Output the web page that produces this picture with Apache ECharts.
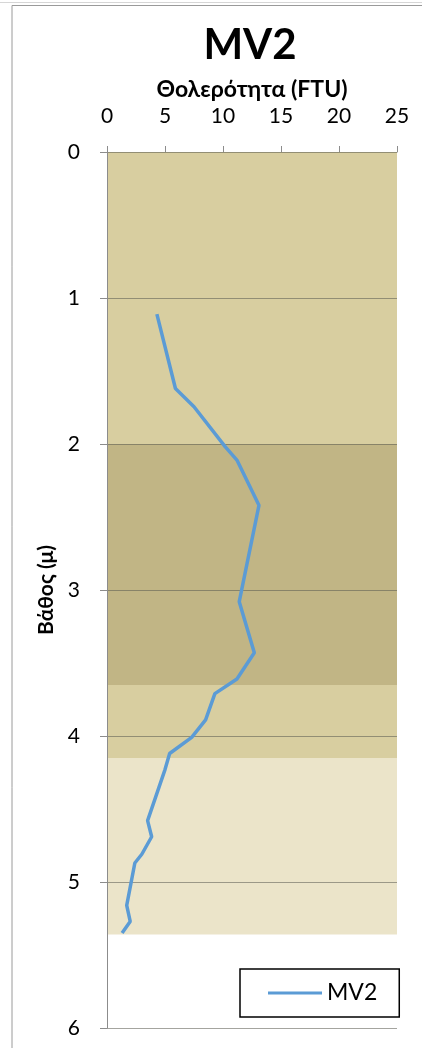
<!DOCTYPE html>
<html>
<head>
<meta charset="utf-8">
<script src="https://cdn.jsdelivr.net/npm/echarts@6/dist/echarts.min.js"></script>
<style>
html,body{margin:0;padding:0;background:#fff;}
#chart{width:422px;height:1048px;}
</style>
</head>
<body>
<div id="chart"></div>
<script>
// ---- data ----
const seriesName = 'MV2';
const turbidity = [4.3, 5.9, 7.5, 10.2, 11.2, 13.1, 11.4, 12.7, 11.2, 9.3, 8.5, 7.3, 5.4, 5.0, 3.5, 3.85, 3.0, 2.4, 1.7, 2.0, 1.3];
const depth =     [1.11, 1.62, 1.745, 2.02, 2.11, 2.42, 3.08, 3.43, 3.61, 3.71, 3.89, 4.01, 4.12, 4.23, 4.58, 4.69, 4.81, 4.87, 5.16, 5.27, 5.35];
const bandFrom =  [0, 2, 3.65, 4.15];
const bandTo =    [2, 3.65, 4.15, 5.36];
const bandColors = ['#d8cea0', '#c1b585', '#d8cea0', '#ebe4c9'];
const xTicks = [0, 5, 10, 15, 20, 25];
const yTicks = [0, 1, 2, 3, 4, 5, 6];

const FONT = 'Lato, "Open Sans", sans-serif';
const points = turbidity.map((v, i) => [v, depth[i]]);
const bands = bandFrom.map((f, i) => [
  { xAxis: xTicks[0], yAxis: f, itemStyle: { color: bandColors[i] } },
  { xAxis: xTicks[xTicks.length - 1], yAxis: bandTo[i] }
]);

const chart = echarts.init(document.getElementById('chart'), null, { renderer: 'canvas' });
chart.setOption({
  animation: false,
  backgroundColor: '#fff',
  title: {
    text: seriesName,
    left: 245, top: 19, textAlign: 'center',
    textStyle: { fontFamily: FONT, fontSize: 42, fontWeight: 'bold', color: '#000' }
  },
  graphic: [
    { type: 'line', shape: { x1: 0, y1: 2.5, x2: 422, y2: 2.5 }, style: { stroke: '#d6d6d6', lineWidth: 1 } },
    { type: 'line', shape: { x1: 12, y1: 5.5, x2: 422, y2: 5.5 }, style: { stroke: '#9a9a9a', lineWidth: 1 } },
    { type: 'line', shape: { x1: 12, y1: 5.5, x2: 12, y2: 1048 }, style: { stroke: '#9a9a9a', lineWidth: 1 } }
  ],
  legend: {
    data: [seriesName],
    left: 240, top: 969,
    padding: [12, 22, 12, 28],
    icon: 'rect',
    itemWidth: 54, itemHeight: 3, itemGap: 5,
    borderColor: '#000', borderWidth: 1.5,
    textStyle: { fontFamily: FONT, fontSize: 23, color: '#000', lineHeight: 24 }
  },
  grid: { left: 107, right: 25, top: 152, bottom: 20, containLabel: false },
  xAxis: {
    type: 'value', position: 'top',
    min: xTicks[0], max: xTicks[xTicks.length - 1], interval: 5,
    name: 'Θολερότητα (FTU)', nameLocation: 'middle', nameGap: 50,
    nameTextStyle: { fontFamily: FONT, fontSize: 23, fontWeight: 'bold', color: '#000' },
    axisLine: { show: true, lineStyle: { color: '#8c8c8c', width: 1 } },
    axisTick: { show: true, inside: false, length: 6, lineStyle: { color: '#8c8c8c' } },
    axisLabel: { margin: 25, fontFamily: FONT, fontSize: 21, color: '#000' },
    splitLine: { show: false }
  },
  yAxis: {
    type: 'value', inverse: true,
    min: yTicks[0], max: yTicks[yTicks.length - 1], interval: 1,
    z: 3,
    name: 'Βάθος (μ)', nameLocation: 'middle', nameGap: 50, nameRotate: 90,
    nameTextStyle: { fontFamily: FONT, fontSize: 21, fontWeight: 'bold', color: '#000' },
    axisLine: { show: true, lineStyle: { color: '#8c8c8c', width: 1 } },
    axisTick: { show: true, inside: false, length: 7, lineStyle: { color: '#8c8c8c' } },
    axisLabel: { margin: 27, fontFamily: FONT, fontSize: 21, color: '#000' },
    splitLine: { show: true, lineStyle: { color: 'rgba(90,90,80,0.55)', width: 1 } }
  },
  series: [{
    name: seriesName,
    type: 'line',
    z: 10,
    data: points,
    symbol: 'none',
    lineStyle: { color: '#5b9bd5', width: 3.5 },
    itemStyle: { color: '#5b9bd5' },
    markArea: { silent: true, z: 1, data: bands }
  }]
});
</script>
</body>
</html>
